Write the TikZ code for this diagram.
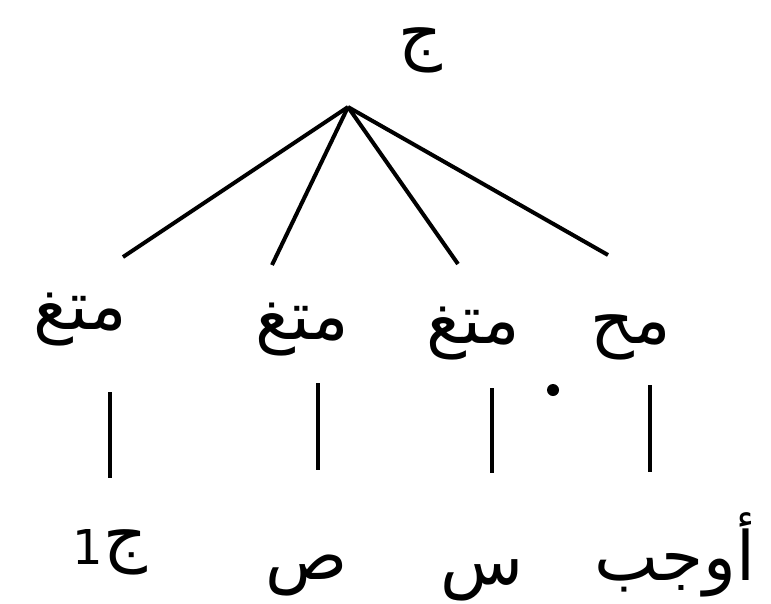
\documentclass[tikz,border=0pt]{standalone}
\usepackage{fontspec}
\newfontfamily\arabicfont[Script=Arabic]{DejaVu Sans}
\TeXXeTstate=1
\usepackage{tikz}
\tikzset{
  ar/.style={inner sep=0pt, font=\arabicfont\fontsize{68}{72}\selectfont},
  branch/.style={line width=4pt}
}

\begin{document}
\begin{tikzpicture}[x=1pt,y=-1pt]
  \useasboundingbox (0,0) rectangle (771,603);
  \node[ar] (root) at (420,50) {\beginR ج\endR};
  \coordinate (apex) at (348,107);
  \node[ar] (m1) at (80,320) {\beginR متغ\endR};
  \node[ar] (m2) at (302,330) {\beginR متغ\endR};
  \node[ar] (m3) at (473,334) {\beginR متغ\endR};
  \node[ar] (m4) at (631,337) {\beginR مح\endR};
  \coordinate (e1) at (123,257);
  \coordinate (e2) at (272,265);
  \coordinate (e3) at (458,264);
  \coordinate (e4) at (608,255);
  \coordinate (v1) at (110,392); \coordinate (w1) at (110,478);
  \coordinate (v2) at (318,383); \coordinate (w2) at (318,470);
  \coordinate (v3) at (492,388); \coordinate (w3) at (492,473);
  \coordinate (v4) at (650,385); \coordinate (w4) at (650,472);
  \node[ar] (l1) at (110,552) {\beginR ج\raisebox{-6pt}{\fontsize{48}{50}\selectfont 1}\endR};
  \node[ar] (l2) at (307,575) {\beginR ص\endR};
  \node[ar] (l3) at (482,580) {\beginR س\endR};
  \node[ar] (l4) at (675,555) {\beginR أوجب\endR};
  \fill (553,390) circle (6);
  \path[branch]
    (apex) edge (e1)
    (apex) edge (e2)
    (apex) edge (e3)
    (apex) edge (e4)
    (v1) edge (w1)
    (v2) edge (w2)
    (v3) edge (w3)
    (v4) edge (w4);
\end{tikzpicture}
\end{document}
